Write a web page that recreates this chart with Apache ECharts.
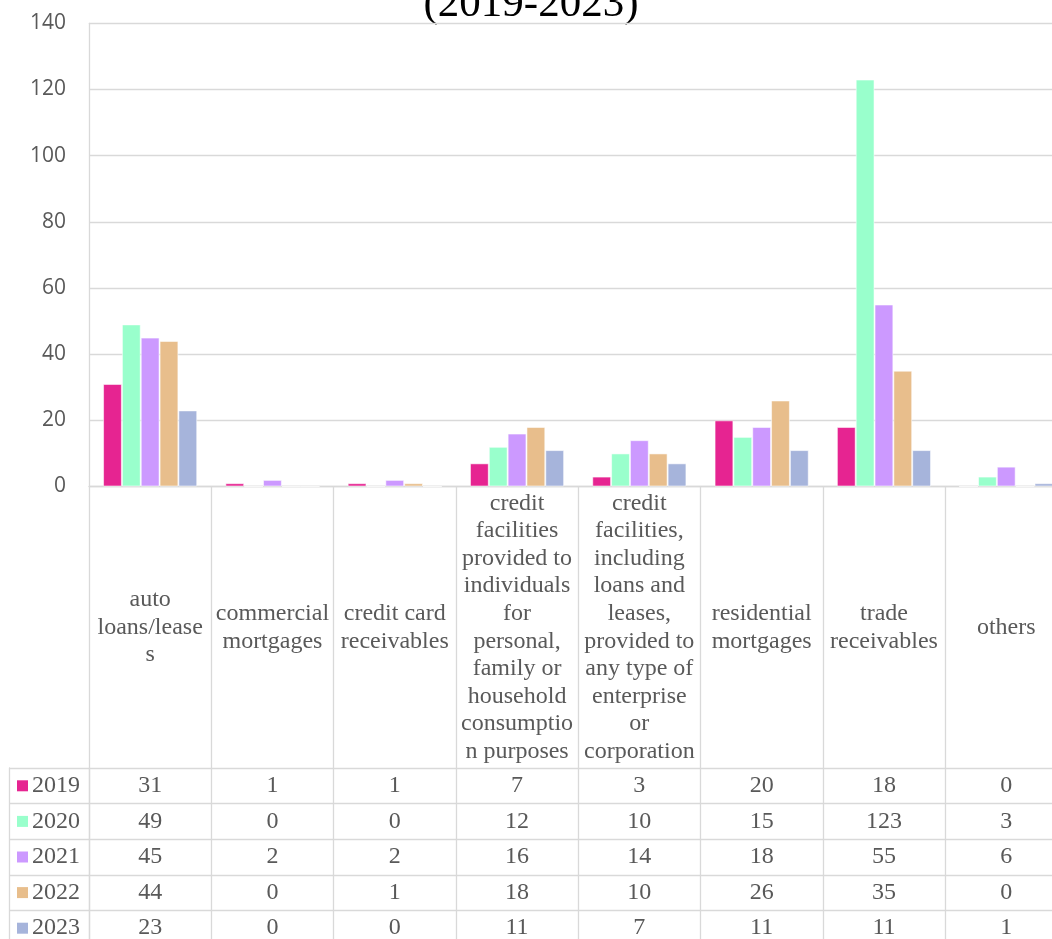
<!DOCTYPE html>
<html>
<head>
<meta charset="utf-8">
<script src="https://cdn.jsdelivr.net/npm/echarts@6/dist/echarts.min.js"></script>
<style>
  html, body { margin: 0; padding: 0; background: #fff; }
  #chart { width: 1052px; height: 939px; }
</style>
</head>
<body>
<div id="chart"></div>
<script>
// Securitised asset classes by year
const categories = [
  'auto loans/leases',
  'commercial mortgages',
  'credit card receivables',
  'credit facilities provided to individuals for personal, family or household consumption purposes',
  'credit facilities, including loans and leases, provided to any type of enterprise or corporation',
  'residential mortgages',
  'trade receivables',
  'others'
];
// Wrapped form of each category as shown under the axis
const categoryLabels = [
  'auto\nloans/lease\ns',
  'commercial\nmortgages',
  'credit card\nreceivables',
  'credit\nfacilities\nprovided to\nindividuals\nfor\npersonal,\nfamily or\nhousehold\nconsumptio\nn purposes',
  'credit\nfacilities,\nincluding\nloans and\nleases,\nprovided to\nany type of\nenterprise\nor\ncorporation',
  'residential\nmortgages',
  'trade\nreceivables',
  'others'
];
const years = ['2019', '2020', '2021', '2022', '2023'];
const v2019 = [31, 1, 1, 7, 3, 20, 18, 0];
const v2020 = [49, 0, 0, 12, 10, 15, 123, 3];
const v2021 = [45, 2, 2, 16, 14, 18, 55, 6];
const v2022 = [44, 0, 1, 18, 10, 26, 35, 0];
const v2023 = [23, 0, 0, 11, 7, 11, 11, 1];
const yTicks = [0, 20, 40, 60, 80, 100, 120, 140];
const titleText = '(2019-2023)';

const seriesValues = [v2019, v2020, v2021, v2022, v2023];
const colors = ['#E62491', '#99FFCC', '#CC99FF', '#E8BE8C', '#A6B4DB'];

const LINE = '#d9d9d9';
const TXT = '#595959';
const SERIF = '"Liberation Serif", "Times New Roman", serif';
const SANS = '"Open Sans", Lato, sans-serif';

// Plot geometry: the category band runs past the right edge of the page
const PLOT_LEFT = 89;
const PLOT_WIDTH = 978.4;

const chart = echarts.init(document.getElementById('chart'), null, { renderer: 'canvas' });

// Rich styles for the colour keys beside each table row
const rich = { t: { fontFamily: SERIF, fontSize: 24, color: TXT, padding: [0, 0, 0, 4] } };
years.forEach((y, i) => {
  rich['k' + i] = { width: 11, height: 11, backgroundColor: colors[i] };
});

const barSeries = years.map((y, i) => ({
  name: y,
  type: 'bar',
  xAxisIndex: 0,
  yAxisIndex: 0,
  data: seriesValues[i],
  barGap: '0%',
  barCategoryGap: '23%',
  itemStyle: { color: colors[i], borderColor: 'rgba(255,255,255,0.55)', borderWidth: 1 }
}));

// Table cells: one text per (category, year)
const tableData = [];
years.forEach((y, yi) => {
  seriesValues[yi].forEach((v, ci) => tableData.push([ci, yi, v]));
});

const option = {
  animation: false,
  backgroundColor: '#fff',
  graphic: [{
    type: 'text',
    x: 531,
    y: 5,
    style: {
      text: titleText,
      font: '43px ' + SERIF,
      fill: '#000',
      align: 'center', verticalAlign: 'middle',
      textAlign: 'center', textVerticalAlign: 'middle'
    }
  }],
  grid: [
    { left: PLOT_LEFT, top: 23.3, width: PLOT_WIDTH, height: 463.2, outerBoundsMode: 'none', containLabel: false },
    { left: PLOT_LEFT, top: 768, width: PLOT_WIDTH, height: 178, outerBoundsMode: 'none', containLabel: false }
  ],
  xAxis: [
    {
      type: 'category',
      gridIndex: 0,
      data: categories,
      axisLine: { show: true, lineStyle: { color: LINE, width: 1.3 } },
      axisTick: { show: true, length: 470, interval: 0, alignWithLabel: false, lineStyle: { color: LINE, width: 1.3 } },
      axisLabel: {
        interval: 0,
        margin: 141,
        verticalAlign: 'middle',
        align: 'center',
        lineHeight: 27.6,
        fontFamily: SERIF,
        fontSize: 24,
        color: TXT,
        hideOverlap: false,
        formatter: (val, idx) => categoryLabels[idx]
      },
      splitLine: { show: false }
    },
    {
      type: 'category',
      gridIndex: 1,
      data: categories,
      show: false
    }
  ],
  yAxis: [
    {
      type: 'value',
      gridIndex: 0,
      min: yTicks[0],
      max: yTicks[yTicks.length - 1],
      interval: yTicks[1] - yTicks[0],
      axisLine: { show: true, lineStyle: { color: LINE, width: 1.3 } },
      axisTick: { show: false },
      axisLabel: { margin: 23, fontFamily: SANS, fontSize: 21, color: TXT },
      splitLine: { show: true, lineStyle: { color: LINE, width: 1.3 } }
    },
    {
      type: 'category',
      gridIndex: 1,
      data: years,
      inverse: true,
      axisLine: { show: true, lineStyle: { color: LINE, width: 1.3 } },
      axisTick: { show: true, length: 80, interval: 0, alignWithLabel: false, lineStyle: { color: LINE, width: 1.3 } },
      axisLabel: {
        interval: 0,
        align: 'left',
        margin: 72,
        formatter: (val, idx) => '{k' + idx + '|}{t|' + val + '}',
        rich: rich
      },
      splitLine: { show: true, interval: 0, lineStyle: { color: LINE, width: 1.3 } }
    },
    {
      // left border of the key column
      type: 'category',
      gridIndex: 1,
      data: years,
      inverse: true,
      position: 'left',
      offset: 80,
      axisLine: { show: true, lineStyle: { color: LINE, width: 1.3 } },
      axisTick: { show: false },
      axisLabel: { show: false },
      splitLine: { show: false }
    }
  ],
  series: barSeries.concat([{
    type: 'custom',
    xAxisIndex: 1,
    yAxisIndex: 1,
    data: tableData,
    renderItem: (params, api) => {
      const p = api.coord([api.value(0), api.value(1)]);
      return {
        type: 'text',
        x: p[0],
        y: p[1],
        style: {
          text: String(api.value(2)),
          font: '24px ' + SERIF,
          fill: TXT,
          align: 'center', verticalAlign: 'middle',
          textAlign: 'center', textVerticalAlign: 'middle'
        }
      };
    }
  }])
};

chart.setOption(option);
</script>
</body>
</html>
